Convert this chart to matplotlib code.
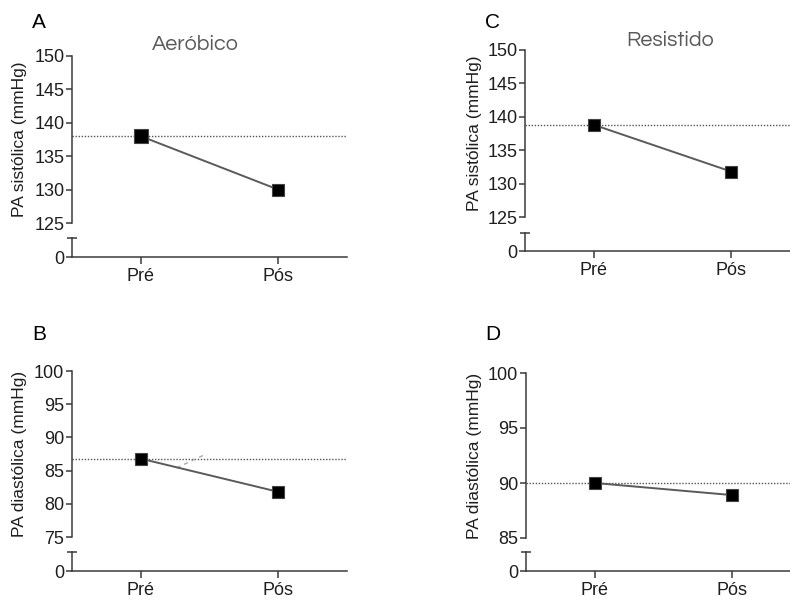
import matplotlib
matplotlib.use("Agg")
import matplotlib.pyplot as plt

# --- data ---
momentos = ["Pré", "Pós"]

aerobico_sist = [138.0, 130.0]
aerobico_diast = [86.8, 81.8]
resistido_sist = [138.8, 131.8]
resistido_diast = [90.0, 88.9]

sist_ticks = [125, 130, 135, 140, 145, 150]
diast_ticks_b = [75, 80, 85, 90, 95, 100]
diast_ticks_d = [85, 90, 95, 100]

# faint dashed artefact visible in panel B
artefato_x = [0.26, 0.46]
artefato_y = [85.4, 87.35]

plt.rcParams["font.family"] = "Liberation Sans"
AXC = "#3a3a3a"
TXT = "#1e1e1e"
FS = 13

fig = plt.figure(figsize=(7.9, 6), dpi=100)
W, H = 790.0, 600.0


def panel(left_px, top_px, bot_px, cap_px, zero_px, values, ticks, ylabel,
          letter, letter_xy, label_x, title=None, title_xy=None, extra=None):
    width = 275.0
    ax = fig.add_axes([left_px / W, (H - bot_px) / H, width / W, (bot_px - top_px) / H])
    axb = fig.add_axes([left_px / W, (H - zero_px) / H, width / W, (zero_px - cap_px) / H])

    x = list(range(len(momentos)))
    ax.axhline(values[0], color="#555555", lw=1.0, ls=(0, (1, 1.2)), zorder=1)
    if extra is not None:
        ax.plot(extra[0], extra[1], color="#aaaaaa", lw=1.0, ls=(0, (3, 3)), zorder=1)
    ax.plot(x, values, color="#5a5a5a", lw=1.4, zorder=2)
    ax.plot(x[:1], values[:1], ls="none", marker="s", ms=9.5 if letter == "A" else 8.3,
            mfc="black", mec="#444444", mew=0.8, zorder=3)
    ax.plot(x[1:], values[1:], ls="none", marker="s", ms=8.3,
            mfc="black", mec="#444444", mew=0.8, zorder=3)

    ax.set_xlim(-0.5, 1.5)
    ax.set_ylim(ticks[0], ticks[-1])
    ax.set_yticks(ticks)
    ax.set_xticks([])
    for s in ["top", "right", "bottom"]:
        ax.spines[s].set_visible(False)
    ax.spines["left"].set_color(AXC)
    ax.spines["left"].set_linewidth(1.1)
    ax.tick_params(axis="y", direction="out", length=4, width=1.1, color=AXC,
                   labelsize=FS, labelcolor=TXT, pad=1.5)
    ax.patch.set_alpha(0)

    axb.set_xlim(-0.5, 1.5)
    axb.set_ylim(0, 1)
    axb.set_yticks([0])
    axb.set_xticks(x)
    axb.set_xticklabels(momentos)
    for s in ["top", "right"]:
        axb.spines[s].set_visible(False)
    for s in ["left", "bottom"]:
        axb.spines[s].set_color(AXC)
        axb.spines[s].set_linewidth(1.1)
    axb.tick_params(axis="y", direction="out", length=4, width=1.1, color=AXC,
                    labelsize=FS, labelcolor=TXT, pad=1.5)
    axb.tick_params(axis="x", direction="out", length=5, width=1.1, color=AXC,
                    labelsize=FS, labelcolor=TXT, pad=3)
    axb.plot([0], [1], marker="_", ms=7, mew=1.1, color=AXC,
             transform=axb.transAxes, clip_on=False)
    axb.patch.set_alpha(0)

    mid = (top_px + bot_px) / 2.0
    fig.text(label_x / W, 1 - mid / H, ylabel, rotation=90, ha="center", va="center",
             fontsize=12.5, color=TXT)
    fig.text(letter_xy[0] / W, 1 - letter_xy[1] / H, letter, ha="center", va="center",
             fontsize=15, color="black")
    if title:
        fig.text(title_xy[0] / W, 1 - title_xy[1] / H, title, ha="center", va="center",
                 fontsize=15.5, color="#5a5a5a", family=["Questrial", "DejaVu Sans"])


panel(72, 56, 223, 238, 257, aerobico_sist, sist_ticks, "PA sistólica (mmHg)",
      "A", (39, 22), 20, "Aeróbico", (195, 44))
panel(525, 50, 217, 233, 251, resistido_sist, sist_ticks, "PA sistólica (mmHg)",
      "C", (493, 23), 475, "Resistido", (670, 40))
panel(72, 371, 537, 552, 571, aerobico_diast, diast_ticks_b, "PA diastólica (mmHg)",
      "B", (39, 335), 20, extra=(artefato_x, artefato_y))
panel(526, 373, 538, 552, 571, resistido_diast, diast_ticks_d, "PA diastólica (mmHg)",
      "D", (493, 335), 475)

fig.savefig("out.png", dpi=100, facecolor="white")
